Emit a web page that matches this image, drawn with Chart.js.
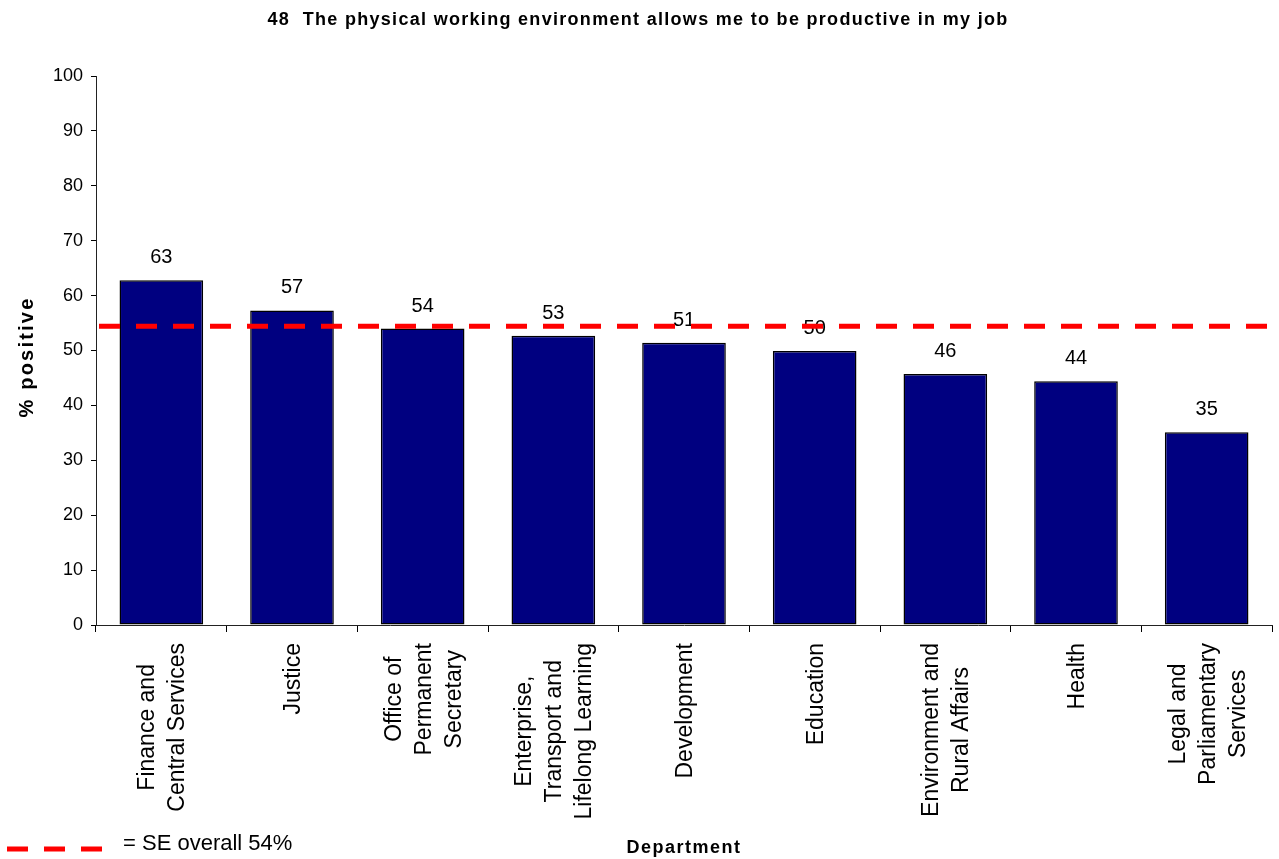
<!DOCTYPE html>
<html lang="en">

<head>
    <meta charset="UTF-8" />
    <title>48 The physical working environment</title>
    <script src="https://cdn.jsdelivr.net/npm/chart.js@4.4.0/dist/chart.umd.min.js"></script>
    <style>
        body { margin: 0; background: #fff; overflow: hidden; }
        #wrap { width: 1279px; height: 859px; position: relative; }
    </style>
</head>

<body>
    <div id="wrap"><canvas id="myChart"></canvas></div>

    <script>
        // data
        const departments = [
            ['Finance and', 'Central Services'],
            ['Justice'],
            ['Office of', 'Permanent', 'Secretary'],
            ['Enterprise,', 'Transport and', 'Lifelong Learning'],
            ['Development'],
            ['Education'],
            ['Environment and', 'Rural Affairs'],
            ['Health'],
            ['Legal and', 'Parliamentary', 'Services']
        ];
        const positive = [62.8, 57.3, 54.0, 52.7, 51.4, 49.9, 45.7, 44.4, 35.1];
        const seOverall = 54.4;

        const chartTitle = '48  The physical working environment allows me to be productive in my job';
        const yTitle = '% positive';
        const xTitle = 'Department';

        const fontFamily = '"Liberation Sans", Arial, sans-serif';
        Chart.defaults.font.family = fontFamily;

        function dashedLine(ctx, x1, x2, y) {
            ctx.save();
            ctx.strokeStyle = '#ff0000';
            ctx.lineWidth = 5;
            ctx.setLineDash([21, 16]);
            ctx.beginPath();
            ctx.moveTo(x1, y);
            ctx.lineTo(x2, y);
            ctx.stroke();
            ctx.restore();
        }

        // labels, titles and the SE overall line
        const extras = {
            id: 'extras',
            afterDatasetsDraw(chart) {
                const ctx = chart.ctx;
                const xs = chart.scales.x;
                const ys = chart.scales.y;
                const area = chart.chartArea;

                ctx.save();
                ctx.fillStyle = '#000';

                // values above bars
                ctx.font = '20px ' + fontFamily;
                ctx.textAlign = 'center';
                ctx.textBaseline = 'alphabetic';
                chart.getDatasetMeta(0).data.forEach(function (bar, i) {
                    ctx.fillText(Math.round(positive[i]), bar.x, bar.y - 17);
                });

                // department names, rotated, lines centred on each other
                ctx.font = '23px ' + fontFamily;
                const lineH = 30;
                const capH = 8;
                chart.data.labels.forEach(function (lines, i) {
                    const cx = xs.getPixelForValue(i);
                    let maxW = 0;
                    lines.forEach(function (l) { maxW = Math.max(maxW, ctx.measureText(l).width); });
                    ctx.save();
                    ctx.translate(cx, 0);
                    ctx.rotate(-Math.PI / 2);
                    lines.forEach(function (l, k) {
                        const off = (k - (lines.length - 1) / 2) * lineH + capH;
                        ctx.fillText(l, -(area.bottom + 18 + maxW / 2), off);
                    });
                    ctx.restore();
                });

                // overall line
                dashedLine(ctx, area.left + 3, area.right, ys.getPixelForValue(seOverall));
                ctx.restore();
            },
            afterDraw(chart) {
                const ctx = chart.ctx;
                ctx.save();
                ctx.fillStyle = '#000';
                ctx.textBaseline = 'alphabetic';

                // chart title
                ctx.font = 'bold 18px ' + fontFamily;
                ctx.letterSpacing = '1.3px';
                ctx.textAlign = 'center';
                ctx.fillText(chartTitle, 638, 25);

                // x axis title
                ctx.letterSpacing = '1.5px';
                ctx.font = 'bold 18px ' + fontFamily;
                ctx.fillText(xTitle, 684, 853);

                // y axis title
                ctx.letterSpacing = '2.2px';
                ctx.font = 'bold 20px ' + fontFamily;
                ctx.save();
                ctx.translate(33, 357);
                ctx.rotate(-Math.PI / 2);
                ctx.fillText(yTitle, 0, 0);
                ctx.restore();

                // key for the overall line
                ctx.letterSpacing = '0px';
                dashedLine(ctx, 7, 104, 849);
                ctx.font = '22px ' + fontFamily;
                ctx.textAlign = 'left';
                ctx.fillText('= SE overall ' + Math.round(seOverall) + '%', 123, 850);
                ctx.restore();
            }
        };

        const ctx = document.getElementById('myChart').getContext('2d');
        const myChart = new Chart(ctx, {
            type: 'bar',
            data: {
                labels: departments,
                datasets: [{
                    label: '% positive',
                    data: positive,
                    backgroundColor: '#000080',
                    borderColor: '#000',
                    borderWidth: 1.5,
                    borderSkipped: false,
                    categoryPercentage: 1,
                    barPercentage: 0.64
                }]
            },
            options: {
                responsive: true,
                maintainAspectRatio: false,
                animation: false,
                layout: { padding: { top: 76, right: 7, left: 0, bottom: 0 } },
                plugins: {
                    legend: { display: false },
                    title: { display: false },
                    tooltip: { enabled: false }
                },
                scales: {
                    x: {
                        ticks: { display: false },
                        grid: {
                            offset: true,
                            drawOnChartArea: false,
                            drawTicks: true,
                            tickLength: 7,
                            color: '#000'
                        },
                        border: { display: true, color: '#222' },
                        afterFit: function (scale) { scale.height = 234; }
                    },
                    y: {
                        min: 0,
                        max: 100,
                        ticks: {
                            stepSize: 10,
                            color: '#000',
                            padding: 8,
                            font: { size: 18 }
                        },
                        grid: {
                            drawOnChartArea: false,
                            drawTicks: true,
                            tickLength: 5,
                            color: '#000'
                        },
                        border: { display: true, color: '#222' },
                        afterFit: function (scale) { scale.width = 96; }
                    }
                }
            },
            plugins: [extras]
        });
    </script>
</body>

</html>
